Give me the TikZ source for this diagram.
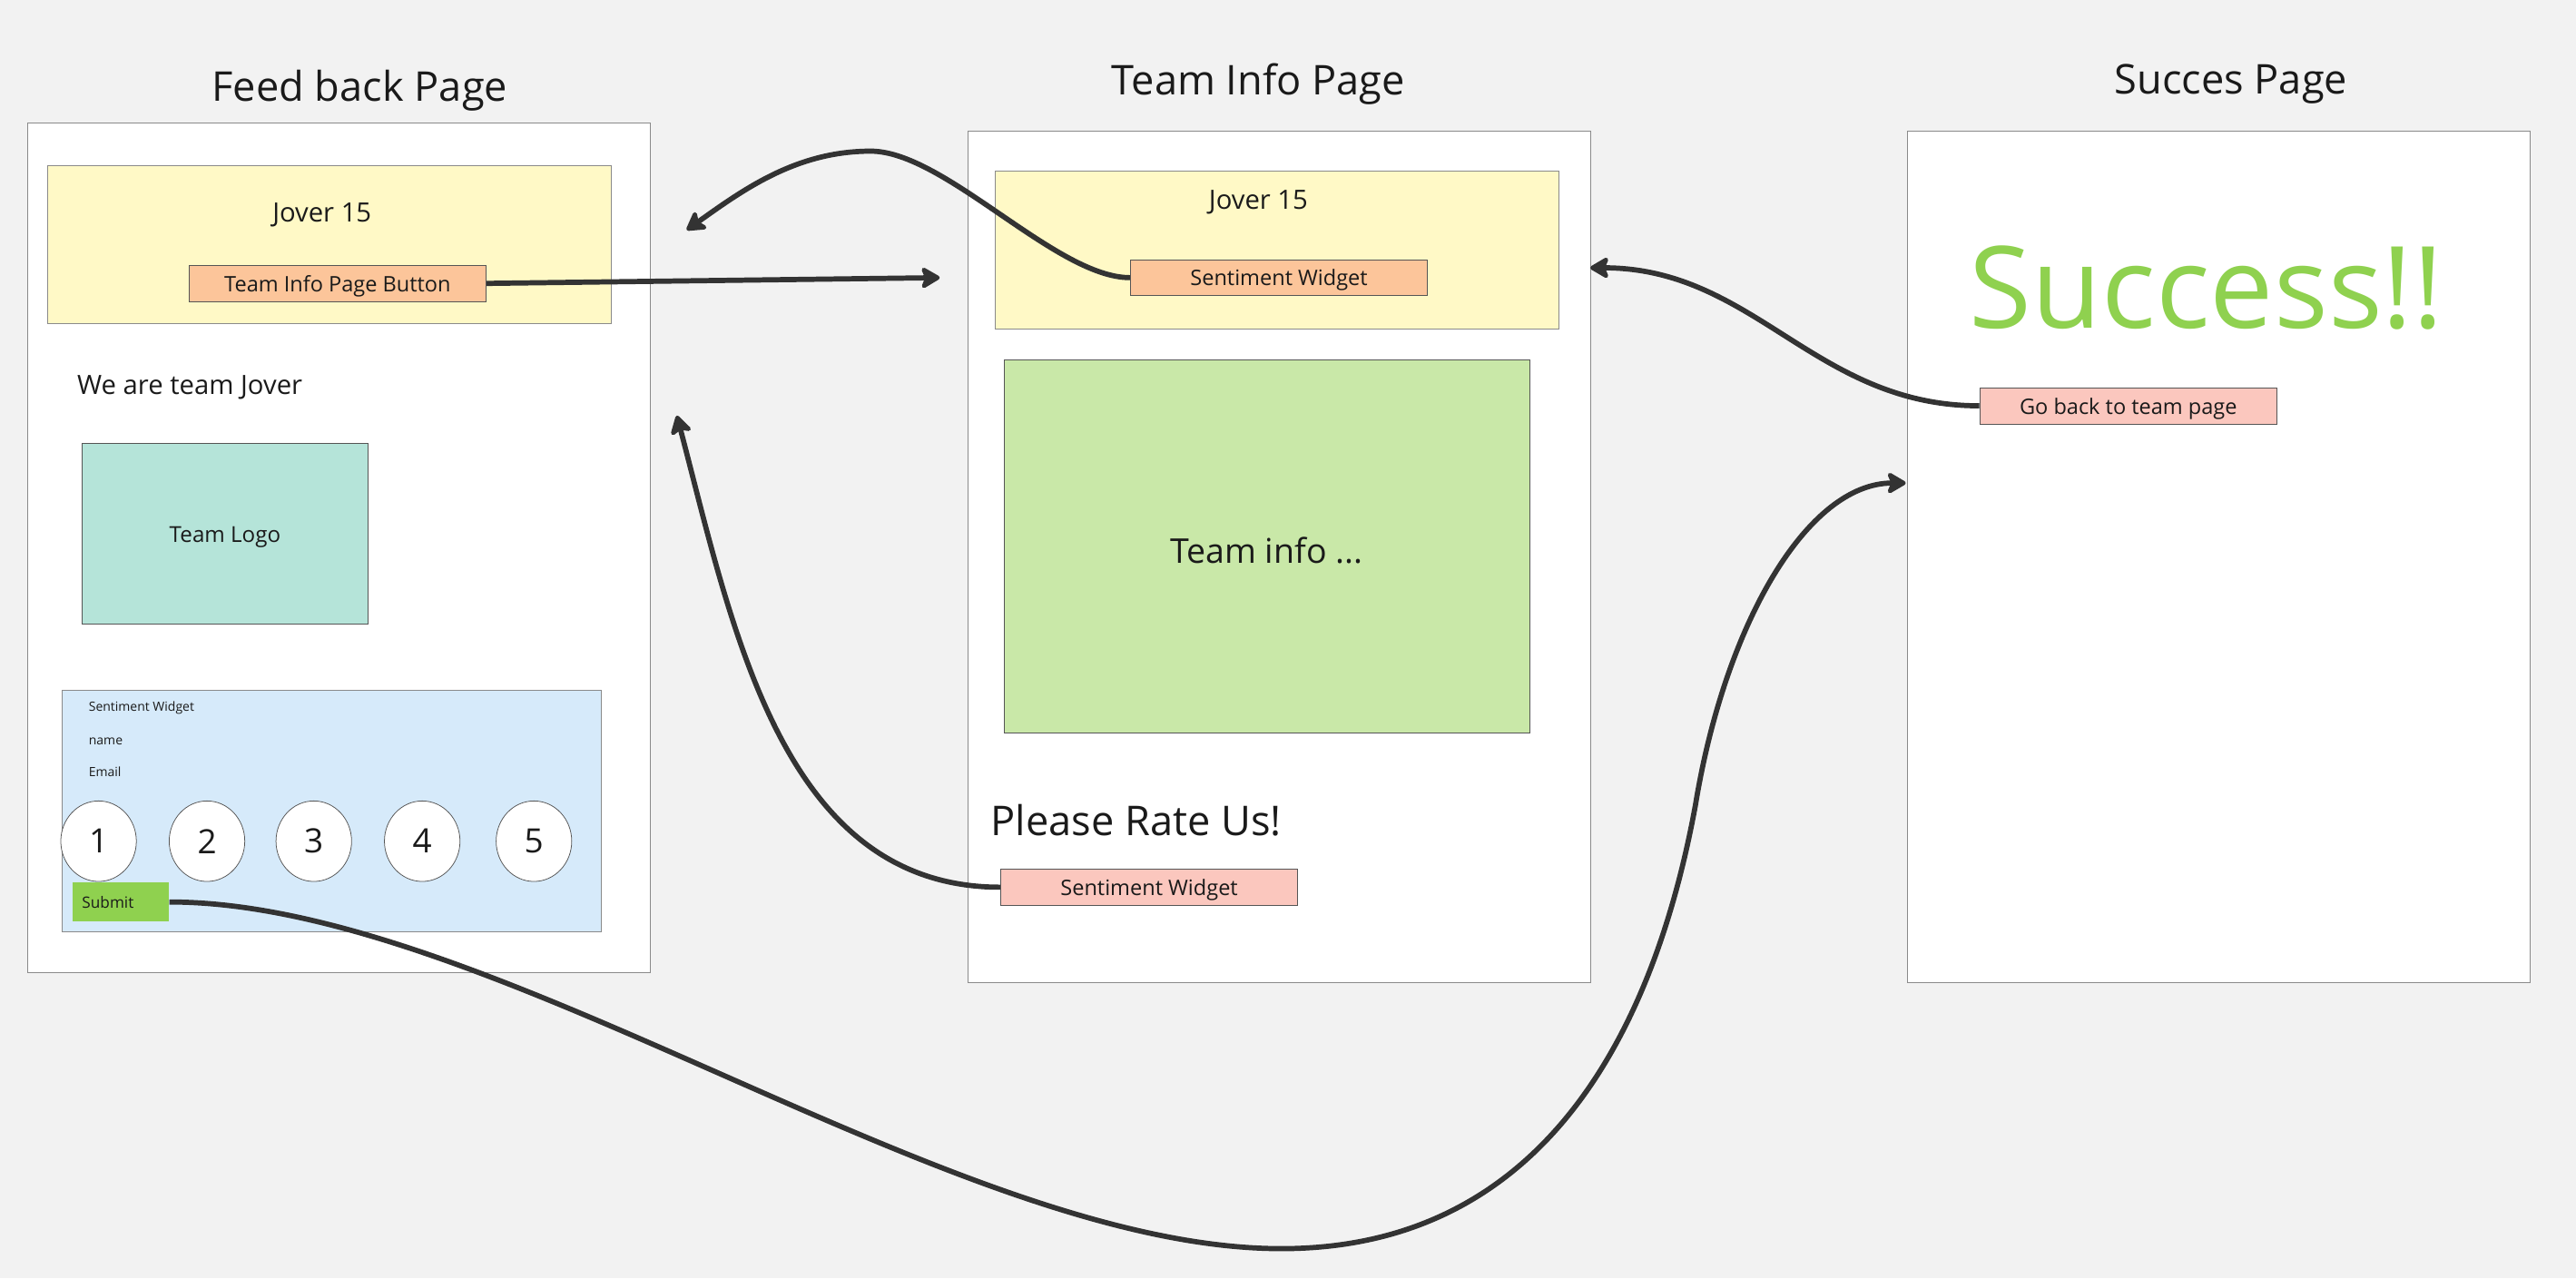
\documentclass[tikz,border=0pt]{standalone}
\usepackage{fontspec}
\setmainfont{Open Sans}
\usepackage{xcolor}
\usetikzlibrary{shapes, positioning, arrows.meta}

\definecolor{canvas}{HTML}{F2F2F2}
\definecolor{ink}{HTML}{1A1A1A}
\definecolor{wire}{HTML}{333333}
\definecolor{frame}{HTML}{8A8A8A}
\definecolor{edge}{HTML}{555555}
\definecolor{headyellow}{HTML}{FFF9C6}
\definecolor{btnorange}{HTML}{FCC59A}
\definecolor{btnpink}{HTML}{FBC7BE}
\definecolor{logoteal}{HTML}{B5E4D9}
\definecolor{widgetblue}{HTML}{D6EAFA}
\definecolor{infogreen}{HTML}{C9E8A8}
\definecolor{okgreen}{HTML}{8FD14F}

\newcommand{\fsz}[1]{\fontsize{#1}{#1}\selectfont}

\tikzset{
    every node/.style={text=ink, inner sep=0pt},
    page/.style={draw=frame, fill=white, line width=1.6pt, minimum width=379mm, minimum height=518mm},
    pagetitle/.style={font=\fsz{71}},
    header/.style={draw=frame, fill=headyellow, line width=1.4pt, minimum width=343mm, minimum height=96mm},
    label/.style={font=\fsz{46}},
    small/.style={anchor=west, font=\fsz{22}},
    block/.style={draw=edge, line width=1.2pt},
    button/.style={draw=edge, line width=1.2pt, minimum width=181mm, minimum height=22mm, text depth=0pt, font=\fsz{37}},
    rate/.style={ellipse, draw=edge, fill=white, line width=1.2pt, minimum width=46mm, minimum height=49mm, font=\fsz{58}},
    submitbox/.style={fill=okgreen, minimum height=24mm, text width=47mm, align=left, inner xsep=6mm, font=\fsz{27}},
    flow/.style={draw=wire, line width=9pt, -{Stealth[length=38pt, width=44pt, inset=9pt, round]}}
}

\begin{document}
\begin{tikzpicture}[x=1mm, y=-1mm]
    \fill[canvas] (0,0) rectangle (1568,778);
    \useasboundingbox (0,0) rectangle (1568,778);

    % pages
    \node[page, minimum height=517mm] (fbpage) at (206.5,333.5) {};
    \node[page] (tipage) at (778.5,339) {};
    \node[page] (scpage) at (1350.5,339) {};
    \node[pagetitle] (fbtitle) at (219,55) {Feed back Page};
    \node[pagetitle] (tititle) at (766,51) {Team Info Page};
    \node[pagetitle] (sctitle) at (1358,51) {Succes Page};

    % feed back page
    \node[header] (fbhead) at (200.5,149) {};
    \node[label] (fbjover) at (196,131) {Jover 15};
    \node[button, fill=btnorange] (fbbtn) at (205.5,172.5) {Team Info Page Button};
    \node[label, anchor=west] (fbwe) at (47,236) {We are team Jover};
    \node[block, fill=logoteal, minimum width=174mm, minimum height=110mm] (fblogo) at (137,325) {};
    \node[font=\fsz{38}] (fblogotext) at (137,327) {Team Logo};
    \node[block, draw=frame, fill=widgetblue, minimum width=328mm, minimum height=147mm] (fbwidget) at (202,493.5) {};
    \node[small] (fbwtitle) at (54,431) {Sentiment Widget};
    \node[small] (fbname) at (54,451) {name};
    \node[small] (fbemail) at (54,470) {Email};
    \node[rate] (r1) at (60,512) {1};
    \node[rate] (r2) at (126,512) {2};
    \node[rate] (r3) at (191,512) {3};
    \node[rate] (r4) at (257,512) {4};
    \node[rate] (r5) at (325,512) {5};
    \node[submitbox] (submit) at (73.5,549) {Submit};

    % team info page
    \node[header] (tihead) at (777.5,152) {};
    \node[label] (tijover) at (766,123) {Jover 15};
    \node[button, fill=btnorange] (tiwidget) at (778.5,169) {Sentiment Widget};
    \node[block, fill=infogreen, minimum width=320mm, minimum height=227mm] (tiinfo) at (771,332.5) {};
    \node[font=\fsz{59}] (tiinfotext) at (771,335) {Team info ...};
    \node[anchor=west, font=\fsz{71}] (tirate) at (603,499) {Please Rate Us!};
    \node[button, fill=btnpink] (tirating) at (699.5,540) {Sentiment Widget};

    % succes page
    \node[font=\fsz{197}, text=okgreen] (scbig) at (1343,175) {Success!!};
    \node[button, fill=btnpink] (scback) at (1295.5,247) {Go back to team page};

    % free ends of the links
    \coordinate (tiin) at (572,169);
    \coordinate (tibend) at (530,92);
    \coordinate (fbin) at (418,140);
    \coordinate (fbside) at (412,253);
    \coordinate (tiright) at (968,163);
    \coordinate (dip) at (780,760);
    \coordinate (climb) at (1032,490);
    \coordinate (scin) at (1160,294);

    \draw[flow] (fbbtn.east) -- (tiin);
    \draw[flow] (tiwidget.west) .. controls +(-45,0) and +(45,0) .. (tibend) .. controls +(-45,0) and +(35,-25) .. (fbin);
    \draw[flow] (tirating.west) .. controls +(-133,0) and +(34,129) .. (fbside);
    \draw[flow] (scback.west) .. controls +(-100,0) and +(100,0) .. (tiright);
    \draw[flow] (submit.east) .. controls +(197,0) and +(-200,0) .. (dip) .. controls +(170,0) and +(-22,120) .. (climb) .. controls +(18,-110) and +(-60,0) .. (scin);
\end{tikzpicture}
\end{document}
